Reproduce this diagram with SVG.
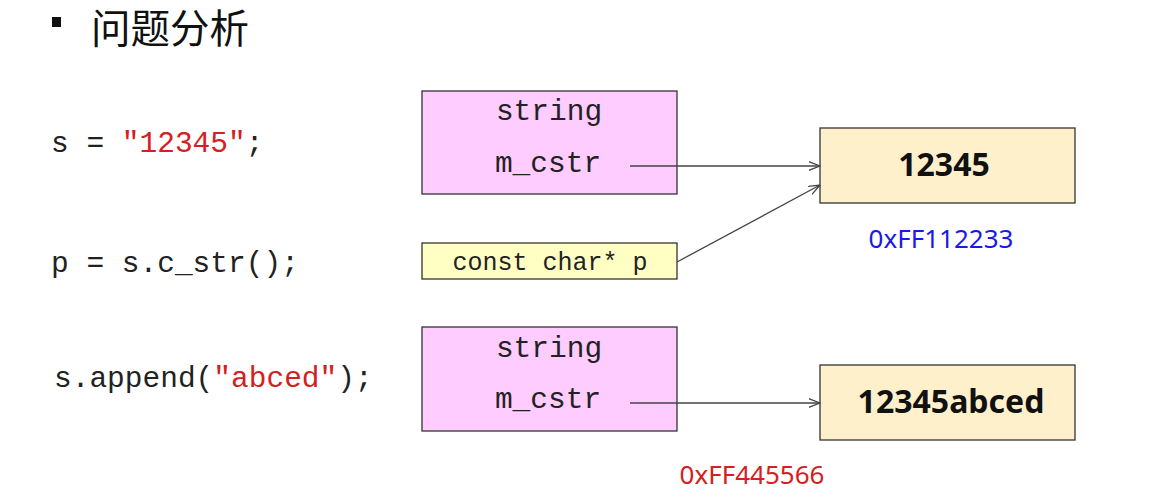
<svg xmlns="http://www.w3.org/2000/svg" width="1154" height="499" viewBox="0 0 1154 499">
<style>
.code{font-family:"Liberation Mono","Courier New",monospace;font-size:29.5px;fill:#222}
.small{font-size:25px}
.red{fill:#d42020}
.box{stroke:#333;stroke-width:1.3}
.pink{fill:#ffccff}
.ptr{fill:#ffffc4}
.mem{fill:#fff0cc}
.memtxt{font-family:"Noto Sans","Open Sans",sans-serif;font-weight:bold;font-size:32px;fill:#111;text-anchor:middle}
.hex{font-family:"Noto Sans","Open Sans",sans-serif;font-size:26px;text-anchor:middle}
.conn{stroke:#444;stroke-width:1.3;fill:none;marker-end:url(#arr)}
</style>
<defs>
<marker id="arr" viewBox="0 0 12 10" refX="11.5" refY="5" markerWidth="12" markerHeight="10" markerUnits="userSpaceOnUse" orient="auto">
<path d="M0,0.5 L11.5,5 L0,9.5" fill="none" stroke="#444" stroke-width="1.3"/>
</marker>
</defs>
<rect width="1154" height="499" fill="#fff"/>
<g id="title">
<rect x="52" y="17" width="9" height="10" fill="#111"/>
<text x="91" y="43" font-family="'Noto Sans CJK SC',sans-serif" font-size="39.5" fill="#111">问题分析</text>
</g>
<g id="code">
<text class="code" x="51" y="152">s = <tspan class="red">"12345"</tspan>;</text>
<text class="code" x="51" y="272">p = s.c_str();</text>
<text class="code" x="54" y="387">s.append(<tspan class="red">"abced"</tspan>);</text>
</g>
<g id="string1">
<rect class="box pink" x="422" y="91" width="255" height="103"/>
<text class="code" x="549" y="120" text-anchor="middle">string</text>
<text class="code" x="548" y="172" text-anchor="middle">m_cstr</text>
</g>
<g id="pointer">
<rect class="box ptr" x="422" y="243" width="255" height="36"/>
<text class="code small" x="550" y="270" text-anchor="middle">const char* p</text>
</g>
<g id="string2">
<rect class="box pink" x="422" y="327" width="255" height="104"/>
<text class="code" x="549" y="357" text-anchor="middle">string</text>
<text class="code" x="548" y="408" text-anchor="middle">m_cstr</text>
</g>
<g id="mem1">
<rect class="box mem" x="820" y="128" width="255" height="75"/>
<text class="memtxt" x="944" y="176">12345</text>
<text class="hex" x="941" y="248" fill="#1a1ae6">0xFF112233</text>
</g>
<g id="mem2">
<rect class="box mem" x="820" y="365" width="255" height="75"/>
<text class="memtxt" x="951" y="413">12345abced</text>
<text class="hex" x="752" y="484" fill="#d42020">0xFF445566</text>
</g>
<g id="connectors">
<line class="conn" x1="630" y1="166" x2="820" y2="166"/>
<line class="conn" x1="677" y1="262" x2="820" y2="185"/>
<line class="conn" x1="630" y1="403" x2="820" y2="403"/>
</g>
</svg>
